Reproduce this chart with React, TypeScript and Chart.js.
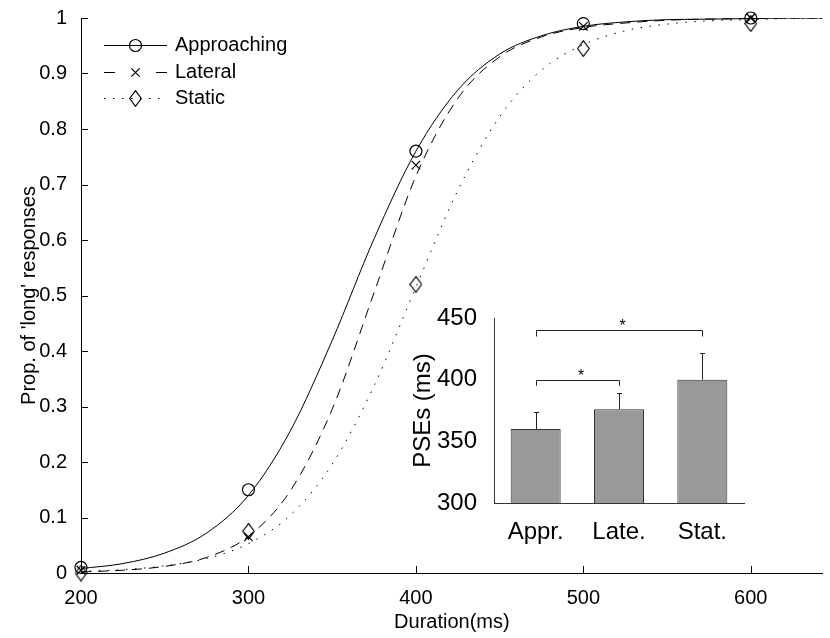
import React, { useEffect, useRef } from 'react';
import { Chart, registerables } from 'chart.js';

Chart.register(...registerables);

// ---------- data ----------
const durations = [200, 225, 250, 275, 300, 325, 350, 375, 400, 425, 450, 475, 500, 525, 550, 575, 600, 625, 643];
const approachingFit = [0.008, 0.017, 0.036, 0.072, 0.14, 0.256, 0.419, 0.602, 0.76, 0.87, 0.935, 0.968, 0.985, 0.993, 0.997, 0.998, 0.999, 1.0, 1.0];
const lateralFit = [0.002, 0.005, 0.012, 0.028, 0.066, 0.148, 0.295, 0.505, 0.715, 0.855, 0.93, 0.966, 0.983, 0.991, 0.996, 0.998, 0.999, 1.0, 1.0];
const staticFit = [0.003, 0.006, 0.013, 0.026, 0.053, 0.104, 0.196, 0.337, 0.515, 0.689, 0.822, 0.906, 0.952, 0.977, 0.989, 0.995, 0.997, 0.999, 0.999];

const testedDurations = [200, 300, 400, 500, 600];
const approachingObs = [0.01, 0.15, 0.76, 0.99, 1.0];
const lateralObs = [0.005, 0.065, 0.735, 0.985, 1.0];
const staticObs = [0.0, 0.075, 0.52, 0.945, 0.99];

const xTickValues = [200, 300, 400, 500, 600];
const yTickValues = [0, 0.1, 0.2, 0.3, 0.4, 0.5, 0.6, 0.7, 0.8, 0.9, 1];
const seriesNames = ['Approaching', 'Lateral', 'Static'];

const pseLabels = ['Appr.', 'Late.', 'Stat.'];
const pseMeans = [360, 376, 400];
const pseUpper = [374, 389, 421.5];
const pseTickValues = [300, 350, 400, 450];
const sigFrom = [0, 0];
const sigTo = [1, 2];
const sigLevel = [400, 440];

const FONT = "'Liberation Sans', Arial, Helvetica, sans-serif";

function makeDiamond(): HTMLCanvasElement {
  const c = document.createElement('canvas');
  const w = 13;
  const h = 17;
  c.width = w;
  c.height = h;
  const g = c.getContext('2d')!;
  g.strokeStyle = '#000';
  g.lineWidth = 1.2;
  g.beginPath();
  const cx = w / 2;
  const cy = h / 2;
  g.moveTo(cx, 0.7); g.lineTo(w - 0.7, cy); g.lineTo(cx, h - 0.7); g.lineTo(0.7, cy); g.closePath();
  g.stroke();
  return c;
}

function drawLegendMarker(ctx: CanvasRenderingContext2D, kind: number, x: number, y: number, diamond: HTMLCanvasElement) {
  ctx.save();
  ctx.strokeStyle = '#000';
  ctx.lineWidth = 1.2;
  ctx.beginPath();
  if (kind === 0) {
    ctx.arc(x, y, 6, 0, Math.PI * 2);
    ctx.stroke();
  } else if (kind === 1) {
    const r = 4.2;
    ctx.moveTo(x - r, y - r); ctx.lineTo(x + r, y + r);
    ctx.moveTo(x + r, y - r); ctx.lineTo(x - r, y + r);
    ctx.stroke();
  } else {
    ctx.drawImage(diamond, Math.round(x - diamond.width / 2), Math.round(y - diamond.height / 2));
  }
  ctx.restore();
}

export default function App() {
  const mainRef = useRef<HTMLCanvasElement>(null);
  const insetRef = useRef<HTMLCanvasElement>(null);

  useEffect(() => {
    const diamond = makeDiamond();
    const pointStyles: any[] = ['circle', 'crossRot', diamond];
    const dashes = [[], [10, 7], [1.5, 7.5]];
    const legendDashes = [[], [11, 41], [1.5, 7.5]];
    const fits = [approachingFit, lateralFit, staticFit];
    const obs = [approachingObs, lateralObs, staticObs];

    const inwardTicks = {
      id: 'inwardTicks',
      afterDraw(chart: any) {
        const { ctx, chartArea, scales } = chart;
        ctx.save();
        ctx.strokeStyle = '#000';
        ctx.lineWidth = 1;
        ctx.beginPath();
        for (const v of xTickValues) {
          const px = Math.round(scales.x.getPixelForValue(v)) + 0.5;
          ctx.moveTo(px, chartArea.bottom);
          ctx.lineTo(px, chartArea.bottom - 7);
        }
        for (const v of yTickValues) {
          const py = Math.round(scales.y.getPixelForValue(v)) + 0.5;
          ctx.moveTo(chartArea.left, py);
          ctx.lineTo(chartArea.left + 7, py);
        }
        ctx.stroke();
        ctx.restore();
      },
    };

    const legendPlugin = {
      id: 'matlabLegend',
      afterDraw(chart: any) {
        const ctx = chart.ctx;
        const rows = [45, 72, 98];
        ctx.save();
        seriesNames.forEach((name, i) => {
          const y = rows[i] + 0.5;
          ctx.strokeStyle = '#000';
          ctx.lineWidth = 1;
          ctx.setLineDash(legendDashes[i]);
          ctx.beginPath();
          ctx.moveTo(104, y);
          ctx.lineTo(167, y);
          ctx.stroke();
          ctx.setLineDash([]);
          drawLegendMarker(ctx, i, 135.5, y, diamond);
          ctx.fillStyle = '#000';
          ctx.font = `20px ${FONT}`;
          ctx.textAlign = 'left';
          ctx.textBaseline = 'middle';
          ctx.fillText(name, 175, y);
        });
        ctx.restore();
      },
    };

    const curveSets = fits.map((f, i) => ({
      data: durations.map((d, k) => ({ x: d, y: f[k] })),
      showLine: true,
      borderColor: '#000',
      borderWidth: 1,
      borderDash: dashes[i],
      pointRadius: 0,
      cubicInterpolationMode: 'monotone',
      fill: false,
    }));
    const markerSets = obs.map((o, i) => ({
      data: testedDurations.map((d, k) => ({ x: d, y: o[k] })),
      showLine: false,
      pointStyle: pointStyles[i],
      pointRadius: 6,
      pointBorderWidth: 1.2,
      pointBorderColor: '#000',
      pointBackgroundColor: 'rgba(0,0,0,0)',
      clip: false,
    }));

    const main = new Chart(mainRef.current!, {
      type: 'scatter',
      data: { datasets: [...curveSets, ...markerSets] as any },
      options: {
        responsive: false,
        animation: false,
        layout: { padding: { top: 18, right: 1, left: 0, bottom: 0 } },
        plugins: { legend: { display: false }, tooltip: { enabled: false } },
        scales: {
          x: {
            type: 'linear',
            min: 200,
            max: 643,
            afterBuildTicks: (s: any) => { s.ticks = xTickValues.map((v) => ({ value: v })); },
            afterFit: (s: any) => { s.height = 65; },
            grid: { display: false },
            border: { display: true, color: '#000', width: 1 },
            ticks: { color: '#000', font: { family: FONT, size: 20 }, padding: 5, callback: (v: any) => String(v) },
            title: { display: true, text: 'Duration(ms)', color: '#000', font: { family: FONT, size: 20 }, padding: { top: 0, bottom: 4 } },
          },
          y: {
            type: 'linear',
            min: 0,
            max: 1,
            afterBuildTicks: (s: any) => { s.ticks = yTickValues.map((v) => ({ value: v })); },
            afterFit: (s: any) => { s.width = 81; },
            grid: { display: false },
            border: { display: true, color: '#000', width: 1 },
            ticks: { color: '#000', font: { family: FONT, size: 20 }, padding: 6, callback: (v: any) => String(v) },
            title: { display: true, text: "Prop. of 'long' responses", color: '#000', font: { family: FONT, size: 20 }, padding: { top: 17, bottom: 0 } },
          },
        },
      } as any,
      plugins: [inwardTicks, legendPlugin],
    });

    const errorBars = {
      id: 'pseErrors',
      afterDatasetsDraw(chart: any) {
        const { ctx, scales } = chart;
        const y = scales.y;
        const meta = chart.getDatasetMeta(0);
        ctx.save();
        ctx.strokeStyle = '#222';
        ctx.lineWidth = 1;
        meta.data.forEach((bar: any, i: number) => {
          const x = Math.round(bar.x) + 0.5;
          const top = Math.round(y.getPixelForValue(pseUpper[i])) + 0.5;
          ctx.beginPath();
          ctx.moveTo(x, bar.y);
          ctx.lineTo(x, top);
          ctx.moveTo(x - 2.5, top);
          ctx.lineTo(x + 2.5, top);
          ctx.stroke();
        });
        sigFrom.forEach((a, k) => {
          const xa = Math.round(meta.data[a].x) + 0.5;
          const xb = Math.round(meta.data[sigTo[k]].x) + 0.5;
          const yl = Math.round(y.getPixelForValue(sigLevel[k])) + 0.5;
          const yd = y.getPixelForValue(sigLevel[k] - 5);
          ctx.beginPath();
          ctx.moveTo(xa, yd);
          ctx.lineTo(xa, yl);
          ctx.lineTo(xb, yl);
          ctx.lineTo(xb, yd);
          ctx.stroke();
          ctx.fillStyle = '#000';
          ctx.font = `16px ${FONT}`;
          ctx.textAlign = 'center';
          ctx.textBaseline = 'middle';
          ctx.fillText('*', (xa + xb) / 2 + 3, y.getPixelForValue(sigLevel[k] + 6) + 4);
        });
        ctx.restore();
      },
    };

    const inset = new Chart(insetRef.current!, {
      type: 'bar',
      data: {
        labels: pseLabels,
        datasets: [{
          data: pseMeans,
          backgroundColor: '#999999',
          borderColor: '#333333',
          borderWidth: 1,
          barPercentage: 0.6,
          categoryPercentage: 1,
        }],
      },
      options: {
        responsive: false,
        animation: false,
        layout: { padding: { top: 28, right: 6, left: 0, bottom: 0 } },
        plugins: { legend: { display: false }, tooltip: { enabled: false } },
        scales: {
          x: {
            afterFit: (s: any) => { s.height = 47; },
            grid: { display: false },
            border: { display: true, color: '#333', width: 1 },
            ticks: { color: '#000', font: { family: FONT, size: 24 }, padding: 7 },
          },
          y: {
            min: 300,
            max: 450,
            afterBuildTicks: (s: any) => { s.ticks = pseTickValues.map((v) => ({ value: v })); },
            afterFit: (s: any) => { s.width = 94; },
            grid: { display: false },
            border: { display: true, color: '#333', width: 1 },
            ticks: { color: '#000', font: { family: FONT, size: 24 }, padding: 9, callback: (v: any) => String(v) },
            title: { display: true, text: 'PSEs (ms)', color: '#000', font: { family: FONT, size: 24 }, padding: { top: 9, bottom: 0 } },
          },
        },
      } as any,
      plugins: [errorBars],
    });

    return () => {
      main.destroy();
      inset.destroy();
    };
  }, []);

  return (
    <div style={{ position: 'absolute', left: 0, top: 0, width: 830, height: 638, background: '#fff' }}>
      <canvas ref={mainRef} width={830} height={638} style={{ position: 'absolute', left: 0, top: 0, width: 830, height: 638 }} />
      <canvas ref={insetRef} width={350} height={260} style={{ position: 'absolute', left: 400, top: 290, width: 350, height: 260 }} />
    </div>
  );
}
